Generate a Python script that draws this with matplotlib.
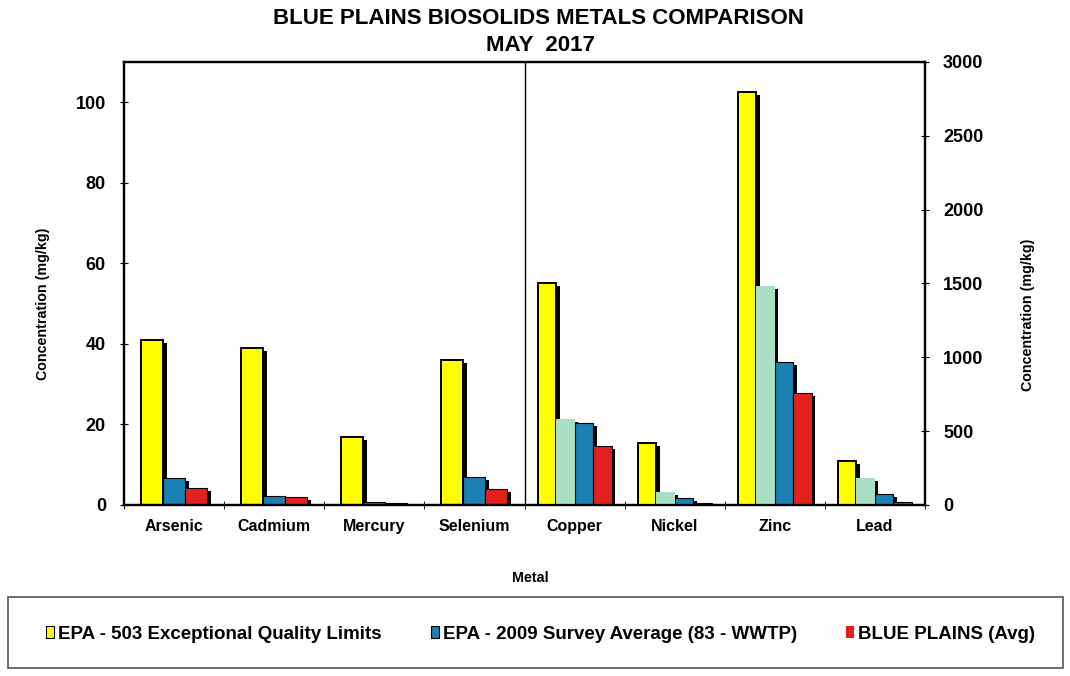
import numpy as np
import matplotlib.pyplot as plt
from matplotlib.patches import Patch, Rectangle
from matplotlib.transforms import offset_copy

plt.rcParams['font.family'] = ['Liberation Sans', 'DejaVu Sans']
plt.rcParams['font.weight'] = 'bold'

# left-axis metals (mg/kg, 0-110 scale)
left_metals = ["Arsenic", "Cadmium", "Mercury", "Selenium"]
left_epa503 = [41, 39, 17, 36]
left_epa2009 = [6.7, 2.2, 0.8, 6.9]
left_blue_plains = [4.2, 2.0, 0.5, 3.9]

# right-axis metals (mg/kg, 0-3000 scale)
right_metals = ["Copper", "Nickel", "Zinc", "Lead"]
right_epa503 = [1500, 420, 2800, 300]
right_green = [585, 90, 1480, 185]
right_epa2009 = [557, 45, 966, 72]
right_blue_plains = [400, 12, 760, 20]

YELLOW = "#FFFF00"
GREEN = "#A9DFC4"
BLUE = "#1B80B2"
RED = "#E4201E"

fig = plt.figure(figsize=(10.7, 6.76), dpi=100)
ax = fig.add_axes([0.1159, 0.2530, 0.7486, 0.6553])
ax2 = ax.twinx()


def shadow_bars(axis, x, h, w):
    tr = offset_copy(axis.transData, fig=fig, x=0.035, y=-0.03, units='inches')
    for xi, hi in zip(x, h):
        axis.add_patch(Rectangle((xi - w / 2, 0), w, hi, facecolor='black',
                                 edgecolor='none', transform=tr, zorder=1))


# left group: 3 bars per metal
xl = np.arange(len(left_metals))
wl = 0.22
left_series = [(left_epa503, YELLOW, 1.4), (left_epa2009, BLUE, 0.8), (left_blue_plains, RED, 0.8)]
for i, (vals, col, lw) in enumerate(left_series):
    shadow_bars(ax, xl + (i - 1) * wl, vals, wl)
for i, (vals, col, lw) in enumerate(left_series):
    ax.bar(xl + (i - 1) * wl, vals, wl, color=col, edgecolor='black', linewidth=lw, zorder=2)

# right group: 4 bars per metal
xr = np.arange(len(right_metals)) + len(left_metals)
wr = 0.185
right_series = [(right_epa503, YELLOW, 1.4, 'black'), (right_green, GREEN, 0, 'none'),
                (right_epa2009, BLUE, 0.8, 'black'), (right_blue_plains, RED, 0.8, 'black')]
for i, (vals, col, lw, ec) in enumerate(right_series):
    shadow_bars(ax2, xr + (i - 1.5) * wr, vals, wr)
for i, (vals, col, lw, ec) in enumerate(right_series):
    ax2.bar(xr + (i - 1.5) * wr, vals, wr, color=col, edgecolor=ec, linewidth=lw, zorder=2)

ax.set_xlim(-0.5, 7.5)
ax.set_ylim(0, 110)
ax2.set_ylim(0, 3000)
ax.axvline(3.5, color='black', linewidth=1)

ax.set_yticks([0, 20, 40, 60, 80, 100])
ax2.set_yticks([0, 500, 1000, 1500, 2000, 2500, 3000])
ax.set_xticks(np.arange(8))
ax.set_xticklabels(left_metals + right_metals, fontsize=11.5, fontweight='bold')
ax.set_xticks(np.arange(9) - 0.5, minor=True)
ax.tick_params(axis='x', which='major', length=0, pad=10)
ax.tick_params(axis='x', which='minor', length=6, direction='inout')
ax.tick_params(axis='y', direction='inout', length=6, labelsize=13, pad=10)
ax2.tick_params(axis='y', direction='inout', length=6, labelsize=13, pad=10)
for lab in ax.get_yticklabels() + ax2.get_yticklabels():
    lab.set_fontweight('bold')

for a in (ax, ax2):
    for s in a.spines.values():
        s.set_linewidth(1.6)

ax.set_ylabel("Concentration (mg/kg)", fontsize=10.3, fontweight='bold')
ax.yaxis.set_label_coords(-0.092, 0.455)
ax2.set_ylabel("Concentration (mg/kg)", fontsize=10.3, fontweight='bold', rotation=90, va='center')
ax2.yaxis.set_label_coords(1.128, 0.43)
ax.set_xlabel("Metal", fontsize=10.3, fontweight='bold')
ax.xaxis.set_label_coords(0.507, -0.15)

fig.text(0.503, 0.972, "BLUE PLAINS BIOSOLIDS METALS COMPARISON", ha='center', va='center',
         fontsize=16, fontweight='bold')
fig.text(0.505, 0.932, "MAY  2017", ha='center', va='center', fontsize=16, fontweight='bold')

# legend box
fig.add_artist(Rectangle((0.0075, 0.0118), 0.986, 0.105, transform=fig.transFigure,
                         facecolor='none', edgecolor='#555555', linewidth=1.2))
handles = [Patch(facecolor=YELLOW, edgecolor='black', linewidth=0.8),
           Patch(facecolor=BLUE, edgecolor='black', linewidth=0.8),
           Patch(facecolor=RED, edgecolor='none')]
labels = ["EPA - 503 Exceptional Quality Limits", "EPA - 2009 Survey Average (83 - WWTP)",
          "BLUE PLAINS (Avg)"]
fig.legend(handles, labels, loc='center', bbox_to_anchor=(0.505, 0.062), ncol=3, frameon=False,
           handlelength=0.45, handleheight=0.65, handletextpad=0.2, columnspacing=2.6,
           prop={'size': 13.5, 'weight': 'bold'})

fig.savefig("out.png", dpi=100)
